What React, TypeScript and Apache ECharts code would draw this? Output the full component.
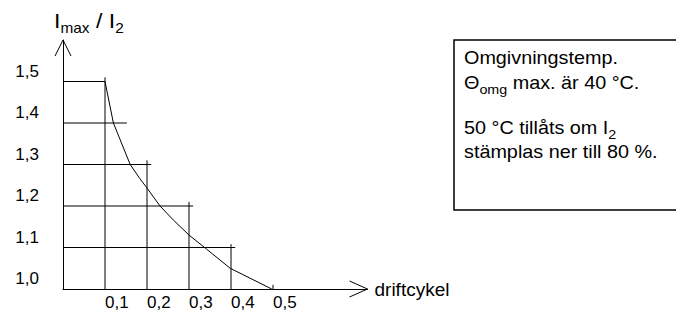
import React, { useEffect, useRef } from "react";
import * as echarts from "echarts";

// Tick labels
const xTickLabels = [0.1, 0.2, 0.3, 0.4, 0.5];
const yTickLabels = [1.0, 1.1, 1.2, 1.3, 1.4, 1.5];

// Curve I_max / I_2 versus driftcykel
const curveX = [0.1, 0.12, 0.16, 0.183, 0.198, 0.231, 0.263, 0.3, 0.342, 0.398, 0.497];
const curveY = [1.5, 1.4, 1.3, 1.266, 1.246, 1.2, 1.166, 1.13, 1.096, 1.05, 1.0];

// Step grid: horizontal segments (level, right end) and vertical segments (position, top)
const hLevels = [1.1, 1.2, 1.3, 1.4, 1.5];
const hEnds = [0.41, 0.31, 0.21, 0.152, 0.1];
const vPositions = [0.1, 0.2, 0.3, 0.4, 0.5];
const vTops = [1.51, 1.31, 1.21, 1.108, 1.01];

// Texts
const xAxisName = "driftcykel";
const yTitle = "{m|I}{s|max}{m| / I}{s|2}";
const boxLines = [
  "{m|Omgivningstemp.}",
  "{m|Θ}{s|omg}{m| max. är 40 °C.}",
  "{m|50 °C tillåts om I}{s|2}",
  "{m|stämplas ner till 80 %.}",
];

const FONT = "'Liberation Sans', Arial, Helvetica, sans-serif";
const X_MAX = 0.725;
const Y_MIN = 1.0;
const Y_MAX = 1.6;

export default function App() {
  const ref = useRef<HTMLDivElement>(null);

  useEffect(() => {
    document.body.style.margin = "0";
    if (!ref.current) return;
    const chart = echarts.init(ref.current, undefined, { renderer: "svg" });

    const segStyle = { color: "#000", width: 1 };
    const series: any[] = [];
    hLevels.forEach((y, i) => {
      series.push({
        type: "line",
        data: [
          [0, y],
          [hEnds[i], y],
        ],
        symbol: "none",
        silent: true,
        lineStyle: segStyle,
      });
    });
    vPositions.forEach((x, i) => {
      series.push({
        type: "line",
        data: [
          [x, Y_MIN],
          [x, vTops[i]],
        ],
        symbol: "none",
        silent: true,
        lineStyle: segStyle,
      });
    });
    series.push({
      type: "line",
      data: curveX.map((x, i) => [x, curveY[i]]),
      symbol: "none",
      silent: true,
      lineStyle: { color: "#000", width: 1 },
    });

    const fmt = (v: number) => v.toFixed(1).replace(".", ",");

    chart.setOption({
      animation: false,
      textStyle: { fontFamily: FONT, color: "#000" },
      grid: { left: 63, right: 676 - (63 + X_MAX * 420), top: 40, bottom: 25, containLabel: false },
      xAxis: {
        type: "value",
        min: 0,
        max: X_MAX,
        interval: 0.1,
        axisLine: { show: true, lineStyle: { color: "#000", width: 1 } },
        axisTick: { show: false },
        splitLine: { show: false },
        axisLabel: {
          color: "#000",
          fontFamily: FONT,
          fontSize: 17,
          align: "left",
          margin: 5,
          showMaxLabel: false,
          formatter: (v: number) =>
            xTickLabels.some((t) => Math.abs(t - v) < 1e-6) ? fmt(v) : "",
        },
        name: xAxisName,
        nameLocation: "end",
        nameGap: 7,
        nameTextStyle: { color: "#000", fontFamily: FONT, fontSize: 19, verticalAlign: "middle" },
      },
      yAxis: {
        type: "value",
        min: Y_MIN,
        max: Y_MAX,
        interval: 0.1,
        axisLine: { show: true, lineStyle: { color: "#000", width: 1 } },
        axisTick: { show: false },
        splitLine: { show: false },
        axisLabel: {
          color: "#000",
          fontFamily: FONT,
          fontSize: 17,
          margin: 24,
          verticalAlign: "bottom",
          padding: [0, 0, 2, 0],
          formatter: (v: number) =>
            yTickLabels.some((t) => Math.abs(t - v) < 1e-6) ? fmt(v) : "",
        },
      },
      series,
    });

    const yTip = chart.convertToPixel({ gridIndex: 0 }, [0, Y_MAX]) as number[];
    const xTip = chart.convertToPixel({ gridIndex: 0 }, [X_MAX, Y_MIN]) as number[];

    const rich = (m: number, s: number) => ({
      m: { fontSize: m, lineHeight: m + 8, fontFamily: FONT, fill: "#000" },
      s: { fontSize: s, lineHeight: s, fontFamily: FONT, fill: "#000", verticalAlign: "bottom" },
    });

    const boxY = [58, 83, 128, 152];

    chart.setOption({
      graphic: [
        {
          type: "polyline",
          silent: true,
          shape: {
            points: [
              [yTip[0] - 8, yTip[1] + 16],
              [yTip[0], yTip[1]],
              [yTip[0] + 8, yTip[1] + 16],
            ],
          },
          style: { stroke: "#000", lineWidth: 1, fill: "none" },
        },
        {
          type: "polyline",
          silent: true,
          shape: {
            points: [
              [xTip[0] - 18, xTip[1] - 8],
              [xTip[0], xTip[1]],
              [xTip[0] - 18, xTip[1] + 8],
            ],
          },
          style: { stroke: "#000", lineWidth: 1, fill: "none" },
        },
        {
          type: "text",
          x: 54,
          y: 21,
          scaleX: 1.1,
          style: {
            text: yTitle,
            rich: rich(21, 14),
            align: "left",
            verticalAlign: "middle",
          },
        },
        {
          type: "rect",
          silent: true,
          shape: { x: 454, y: 40, width: 240, height: 170 },
          style: { fill: "#fff", stroke: "#000", lineWidth: 1.5 },
        },
        ...boxLines.map((t, i) => ({
          type: "text",
          x: 464,
          y: boxY[i],
          scaleX: 1.1,
          style: {
            text: t,
            rich: rich(18, 13),
            align: "left",
            verticalAlign: "middle",
          },
        })),
      ],
    });

    return () => chart.dispose();
  }, []);

  return <div ref={ref} style={{ width: 676, height: 314 }} />;
}
